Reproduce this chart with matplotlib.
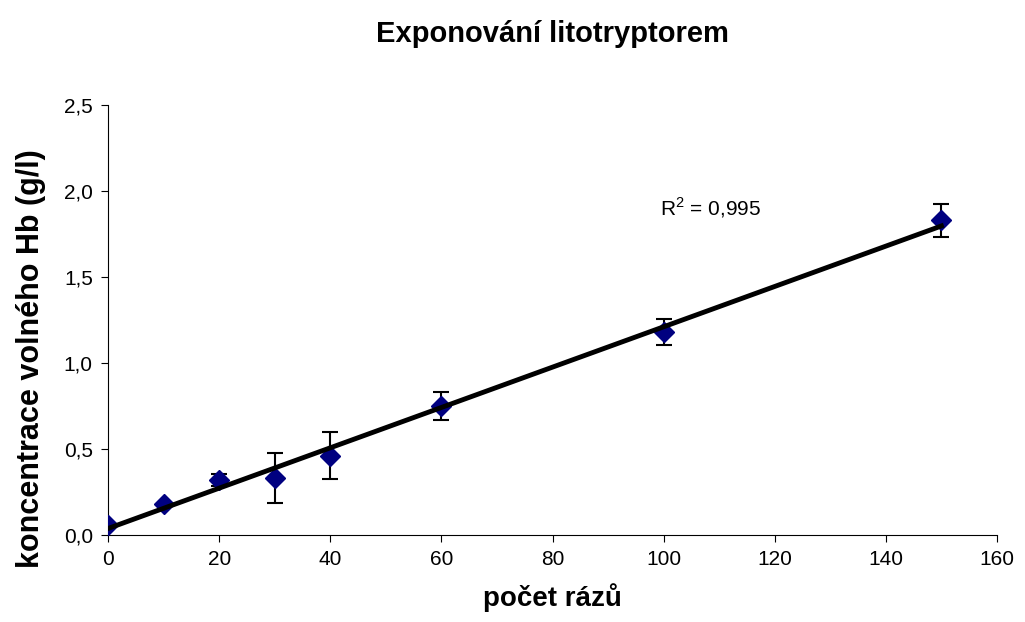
import numpy as np
import matplotlib
matplotlib.use("Agg")
import matplotlib.pyplot as plt
from matplotlib.ticker import FuncFormatter

plt.rcParams['font.family'] = ['Liberation Sans', 'DejaVu Sans']
plt.rcParams['mathtext.fontset'] = 'custom'
plt.rcParams['mathtext.rm'] = 'Liberation Sans'

pocet_razu = [0, 10, 20, 30, 40, 60, 100, 150]
koncentrace = [0.06, 0.18, 0.32, 0.33, 0.46, 0.75, 1.18, 1.83]
chyba = [0.0, 0.0, 0.035, 0.145, 0.137, 0.084, 0.075, 0.095]

x = np.array(pocet_razu, dtype=float)
y = np.array(koncentrace)
k, q = np.polyfit(x, y, 1)

fig = plt.figure(figsize=(10.25, 6.22), dpi=100)
ax = fig.add_axes([0.1054, 0.1399, 0.8673, 0.6913])

ax.errorbar(x, y, yerr=chyba, fmt='none', ecolor='black', elinewidth=1.5,
            capsize=6, capthick=1.5, zorder=2)
ax.plot(x, y, linestyle='none', marker='D', markersize=10.5, color='#000080', zorder=3)
ax.plot([0, 150], [q, q + k * 150], color='black', linewidth=3.5, zorder=4)

ax.text(99.3, 1.86, 'R$^2$ = 0,995', fontsize=15)

ax.set_xlim(0, 160)
ax.set_ylim(0, 2.5)
ax.set_xticks(np.arange(0, 161, 20))
ax.set_yticks(np.arange(0, 2.51, 0.5))
ax.yaxis.set_major_formatter(FuncFormatter(lambda v, p: ('%.1f' % v).replace('.', ',')))
ax.tick_params(direction='out', length=5, labelsize=15, pad=6)
for s in ['top', 'right']:
    ax.spines[s].set_visible(False)

ax.set_xlabel('počet rázů', fontsize=20, fontweight='bold')
ax.xaxis.set_label_coords(0.5, -0.145)
ax.xaxis.label.set_va('center')
ax.set_ylabel('koncentrace volného Hb (g/l)', fontsize=22, fontweight='bold')
ax.yaxis.set_label_coords(-0.087, 0.41)
ax.yaxis.label.set_va('center')
fig.suptitle('Exponování litotryptorem', fontsize=21, fontweight='bold',
             x=0.539, y=0.946, va='center')

fig.savefig('out.png', dpi=100)
